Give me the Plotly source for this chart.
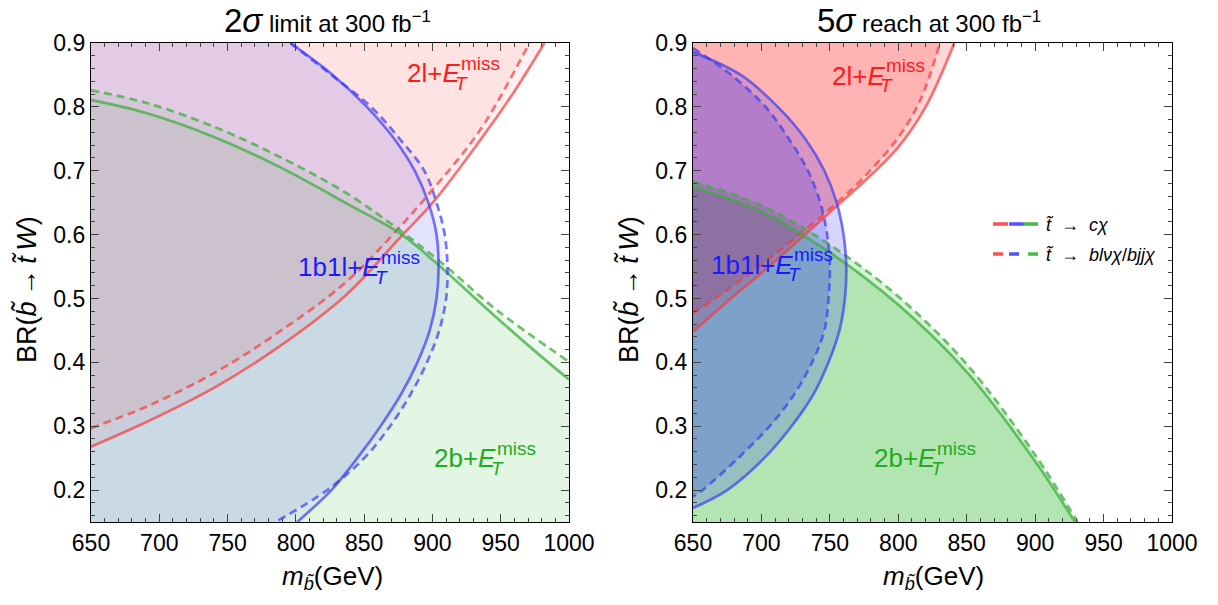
import plotly.graph_objects as go

XMIN, XMAX = 650, 1000
YMIN, YMAX = 0.15, 0.9

# ---------------- Left panel: 2 sigma limit ----------------
L_red_solid_m = [650, 691, 740, 788, 837, 877, 901, 935, 959, 982]
L_red_solid_br = [0.268, 0.307, 0.360, 0.425, 0.506, 0.597, 0.652, 0.748, 0.821, 0.90]
L_red_dash_m = [650, 691, 740, 788, 837, 874, 898, 935, 971]
L_red_dash_br = [0.297, 0.331, 0.383, 0.448, 0.526, 0.607, 0.665, 0.764, 0.90]

L_green_solid_m = [650, 691, 740, 788, 837, 877.5, 903, 935, 971, 1000]
L_green_solid_br = [0.811, 0.790, 0.753, 0.706, 0.649, 0.600, 0.555, 0.493, 0.425, 0.373]
L_green_dash_m = [650, 691, 740, 788, 837, 876, 910, 947, 1000]
L_green_dash_br = [0.826, 0.806, 0.769, 0.722, 0.665, 0.607, 0.550, 0.482, 0.401]

L_blue_solid_br = [0.9, 0.85, 0.8, 0.75, 0.7, 0.65, 0.6, 0.55, 0.5, 0.45, 0.4, 0.35, 0.3, 0.25, 0.2, 0.15]
L_blue_solid_m = [796, 827, 852, 872, 887, 897, 903, 904.5, 903, 898, 889, 877, 862, 845, 826, 801]
L_blue_dash_br = [0.9, 0.85, 0.8, 0.75, 0.7, 0.65, 0.6, 0.55, 0.5, 0.45, 0.4, 0.35, 0.3, 0.25, 0.2, 0.15]
L_blue_dash_m = [796, 826, 855, 876, 894, 903, 909, 911, 910, 905, 896, 884, 869, 850, 823, 785]

# ---------------- Right panel: 5 sigma reach ----------------
R_red_solid_m = [650, 675, 700, 725, 750, 775, 800, 820, 841]
R_red_solid_br = [0.448, 0.495, 0.540, 0.587, 0.635, 0.683, 0.737, 0.800, 0.9]
R_red_dash_m = [650, 675, 700, 725, 750, 775, 800, 816, 830.5]
R_red_dash_br = [0.477, 0.513, 0.553, 0.595, 0.640, 0.690, 0.752, 0.810, 0.9]

R_blue_solid_br = [0.886, 0.85, 0.8, 0.75, 0.7, 0.65, 0.6, 0.55, 0.5, 0.45, 0.4, 0.35, 0.3, 0.25, 0.2, 0.172]
R_blue_solid_m = [650, 685, 712, 732, 746, 755, 760, 762, 761, 757, 749, 738, 722, 702, 675, 650]
R_blue_dash_br = [0.892, 0.85, 0.8, 0.75, 0.7, 0.65, 0.6, 0.55, 0.5, 0.45, 0.4, 0.35, 0.3, 0.25, 0.2, 0.19]
R_blue_dash_m = [650, 678, 703, 720, 734, 743, 748, 750, 749, 746, 737, 724, 706, 683, 657, 650]

R_green_solid_m = [650, 700, 750, 800, 850, 900, 929]
R_green_solid_br = [0.675, 0.636, 0.572, 0.49, 0.385, 0.245, 0.15]
R_green_dash_m = [650, 700, 750, 800, 850, 900, 931]
R_green_dash_br = [0.683, 0.646, 0.584, 0.503, 0.397, 0.255, 0.15]

x_ticks = [650, 700, 750, 800, 850, 900, 950, 1000]
y_ticks = [0.2, 0.3, 0.4, 0.5, 0.6, 0.7, 0.8, 0.9]

RED_LINE = "rgba(245,60,60,0.70)"
BLUE_LINE = "rgba(60,60,245,0.70)"
GREEN_LINE = "rgba(60,175,60,0.75)"

def fillc(rgb, a):
    return "rgba(%d,%d,%d,%.3f)" % (rgb[0], rgb[1], rgb[2], a)

RED = (255, 0, 0)
BLUE = (0, 0, 255)
GREEN = (0, 165, 0)

fig = go.Figure()

def add_fill(xs, ys, rgb, a, mode, xa, ya):
    fig.add_trace(go.Scatter(x=xs, y=ys, mode="lines", fill=mode, fillcolor=fillc(rgb, a),
                             line=dict(width=0, shape="spline", smoothing=1, color="rgba(0,0,0,0)"),
                             xaxis=xa, yaxis=ya, showlegend=False, hoverinfo="skip"))

def add_line(xs, ys, color, dash, xa, ya):
    fig.add_trace(go.Scatter(x=xs, y=ys, mode="lines",
                             line=dict(width=2.7, shape="spline", smoothing=1, color=color, dash=dash),
                             xaxis=xa, yaxis=ya, showlegend=False, hoverinfo="skip"))

DASH = "8px,5px"
panels = [
    dict(xa="x", ya="y", a=0.055,
         red=[(L_red_solid_m, L_red_solid_br, "solid"), (L_red_dash_m, L_red_dash_br, DASH)],
         blue=[(L_blue_solid_m, L_blue_solid_br, "solid"), (L_blue_dash_m, L_blue_dash_br, DASH)],
         green=[(L_green_solid_m, L_green_solid_br, "solid"), (L_green_dash_m, L_green_dash_br, DASH)]),
    dict(xa="x2", ya="y2", a=0.16,
         red=[(R_red_solid_m, R_red_solid_br, "solid"), (R_red_dash_m, R_red_dash_br, DASH)],
         blue=[(R_blue_solid_m, R_blue_solid_br, "solid"), (R_blue_dash_m, R_blue_dash_br, DASH)],
         green=[(R_green_solid_m, R_green_solid_br, "solid"), (R_green_dash_m, R_green_dash_br, DASH)]),
]

for p in panels:
    for xs, ys, d in p["green"]:
        add_fill(xs, ys, GREEN, p["a"], "tozeroy", p["xa"], p["ya"])
    for xs, ys, d in p["red"]:
        add_fill(xs, ys, RED, p["a"], "tozerox", p["xa"], p["ya"])
    for xs, ys, d in p["blue"]:
        add_fill(xs, ys, BLUE, p["a"], "tozerox", p["xa"], p["ya"])
    for xs, ys, d in p["red"]:
        add_line(xs, ys, RED_LINE, d, p["xa"], p["ya"])
    for xs, ys, d in p["green"]:
        add_line(xs, ys, GREEN_LINE, d, p["xa"], p["ya"])
    for xs, ys, d in p["blue"]:
        add_line(xs, ys, BLUE_LINE, d, p["xa"], p["ya"])

W, H = 1218, 605
def px(x):
    return x / W
def py(y):
    return 1 - y / H

FONT = "Liberation Sans, Arial, sans-serif"
axis_common = dict(showline=True, linecolor="black", linewidth=1.2, mirror="ticks",
                   ticks="inside", ticklen=8, tickwidth=1, tickcolor="#444",
                   showgrid=False, zeroline=False, automargin=False,
                   tickfont=dict(family=FONT, size=23, color="black"))

def xminor():
    return dict(ticks="inside", ticklen=4, dtick=10, tick0=650, tickcolor="#444", showgrid=False)
def yminor():
    return dict(ticks="inside", ticklen=4, dtick=0.02, tick0=0.0, tickcolor="#444", showgrid=False)

fig.update_layout(
    width=W, height=H, margin=dict(l=0, r=0, t=0, b=0, autoexpand=False),
    paper_bgcolor="white", plot_bgcolor="white",
    xaxis=dict(domain=[px(91), px(569)], range=[XMIN, XMAX], tickvals=x_ticks,
               minor=xminor(), anchor="y", **axis_common),
    yaxis=dict(domain=[py(522), py(43)], range=[YMIN, YMAX], tickvals=y_ticks, tickformat=".1f",
               minor=yminor(), anchor="x", **axis_common),
    xaxis2=dict(domain=[px(693), px(1172)], range=[XMIN, XMAX], tickvals=x_ticks,
                minor=xminor(), anchor="y2", **axis_common),
    yaxis2=dict(domain=[py(522), py(43)], range=[YMIN, YMAX], tickvals=y_ticks, tickformat=".1f",
                minor=yminor(), anchor="x2", **axis_common),
)

ann = []
def pann(x, y, text, size, **kw):
    d = dict(x=px(x), y=py(y), xref="paper", yref="paper", showarrow=False,
             xanchor="center", yanchor="middle",
             text=text, font=dict(family=FONT, size=size, color="black"))
    d.update(kw)
    ann.append(d)

# titles
pann(327, 20, "<span style='font-size:33px'>2<i>σ</i></span> limit at 300 fb<sup>−1</sup>", 24)
pann(929, 20, "<span style='font-size:33px'>5<i>σ</i></span> reach at 300 fb<sup>−1</sup>", 24)
# axis titles
for xc in (332, 934):
    pann(xc, 577, "<i>m</i><sub><i>b̃</i></sub>(GeV)", 26)
SP = "\u2009"
for xc in (26, 628):
    pann(xc, 290, "BR(<i>b̃</i>" + SP + "→" + SP + "<i>t̃</i>" + SP + "<i>W</i>)", 27, textangle=-90)

# region labels with stacked sub/superscripts
def region_label(xa, ya, x, y, base, color, base_w):
    ann.append(dict(x=x, y=y, xref=xa, yref=ya, xanchor="left", yanchor="middle", showarrow=False,
                    text=base, font=dict(family=FONT, size=26, color=color)))
    ann.append(dict(x=x, y=y, xref=xa, yref=ya, xanchor="left", yanchor="middle", showarrow=False,
                    xshift=base_w, yshift=10, text="miss", font=dict(family=FONT, size=19, color=color)))
    ann.append(dict(x=x, y=y, xref=xa, yref=ya, xanchor="left", yanchor="middle", showarrow=False,
                    xshift=base_w - 6, yshift=-10, text="<i>T</i>", font=dict(family=FONT, size=19, color=color)))

RED_TXT = "#ff1a1a"
BLUE_TXT = "#1a1aff"
GREEN_TXT = "#22aa22"
region_label("x", "y", 880, 0.853, "2l+<i>E</i>", RED_TXT, 54)
region_label("x", "y", 800, 0.549, "1b1l+<i>E</i>", BLUE_TXT, 83)
region_label("x", "y", 899.5, 0.25, "2b+<i>E</i>", GREEN_TXT, 63)
region_label("x2", "y2", 750, 0.849, "2l+<i>E</i>", RED_TXT, 54)
region_label("x2", "y2", 662, 0.553, "1b1l+<i>E</i>", BLUE_TXT, 83)
region_label("x2", "y2", 780.5, 0.25, "2b+<i>E</i>", GREEN_TXT, 63)

# legend (drawn inside right panel)
shapes = []
LEG_COLORS = ["rgb(255,80,80)", "rgb(80,80,255)", "rgb(70,185,70)"]
row1, row2 = 224, 254
solid_x = [993, 1009, 1023]
dash_x = [993, 1009, 1028]
for i, c in enumerate(LEG_COLORS):
    x0 = solid_x[i]
    shapes.append(dict(type="line", xref="paper", yref="paper", x0=px(x0), x1=px(x0 + 15),
                       y0=py(row1), y1=py(row1), line=dict(color=c, width=3.5)))
    x0 = dash_x[i]
    shapes.append(dict(type="line", xref="paper", yref="paper", x0=px(x0), x1=px(x0 + 10),
                       y0=py(row2), y1=py(row2), line=dict(color=c, width=3.5)))
pann(1044, row1 + 1, "<i>t̃</i>  →  <i>cχ</i>", 18, xanchor="left")
pann(1044, row2 + 1, "<i>t̃</i>  →  <i>blνχ</i>/<i>bjjχ</i>", 18, xanchor="left")

fig.update_layout(annotations=ann, shapes=shapes)
fig.write_html("out.html", config={"displayModeBar": False},
               post_script="document.body.style.margin='0';document.body.style.padding='0';"
                           "document.documentElement.style.overflow='hidden';")
